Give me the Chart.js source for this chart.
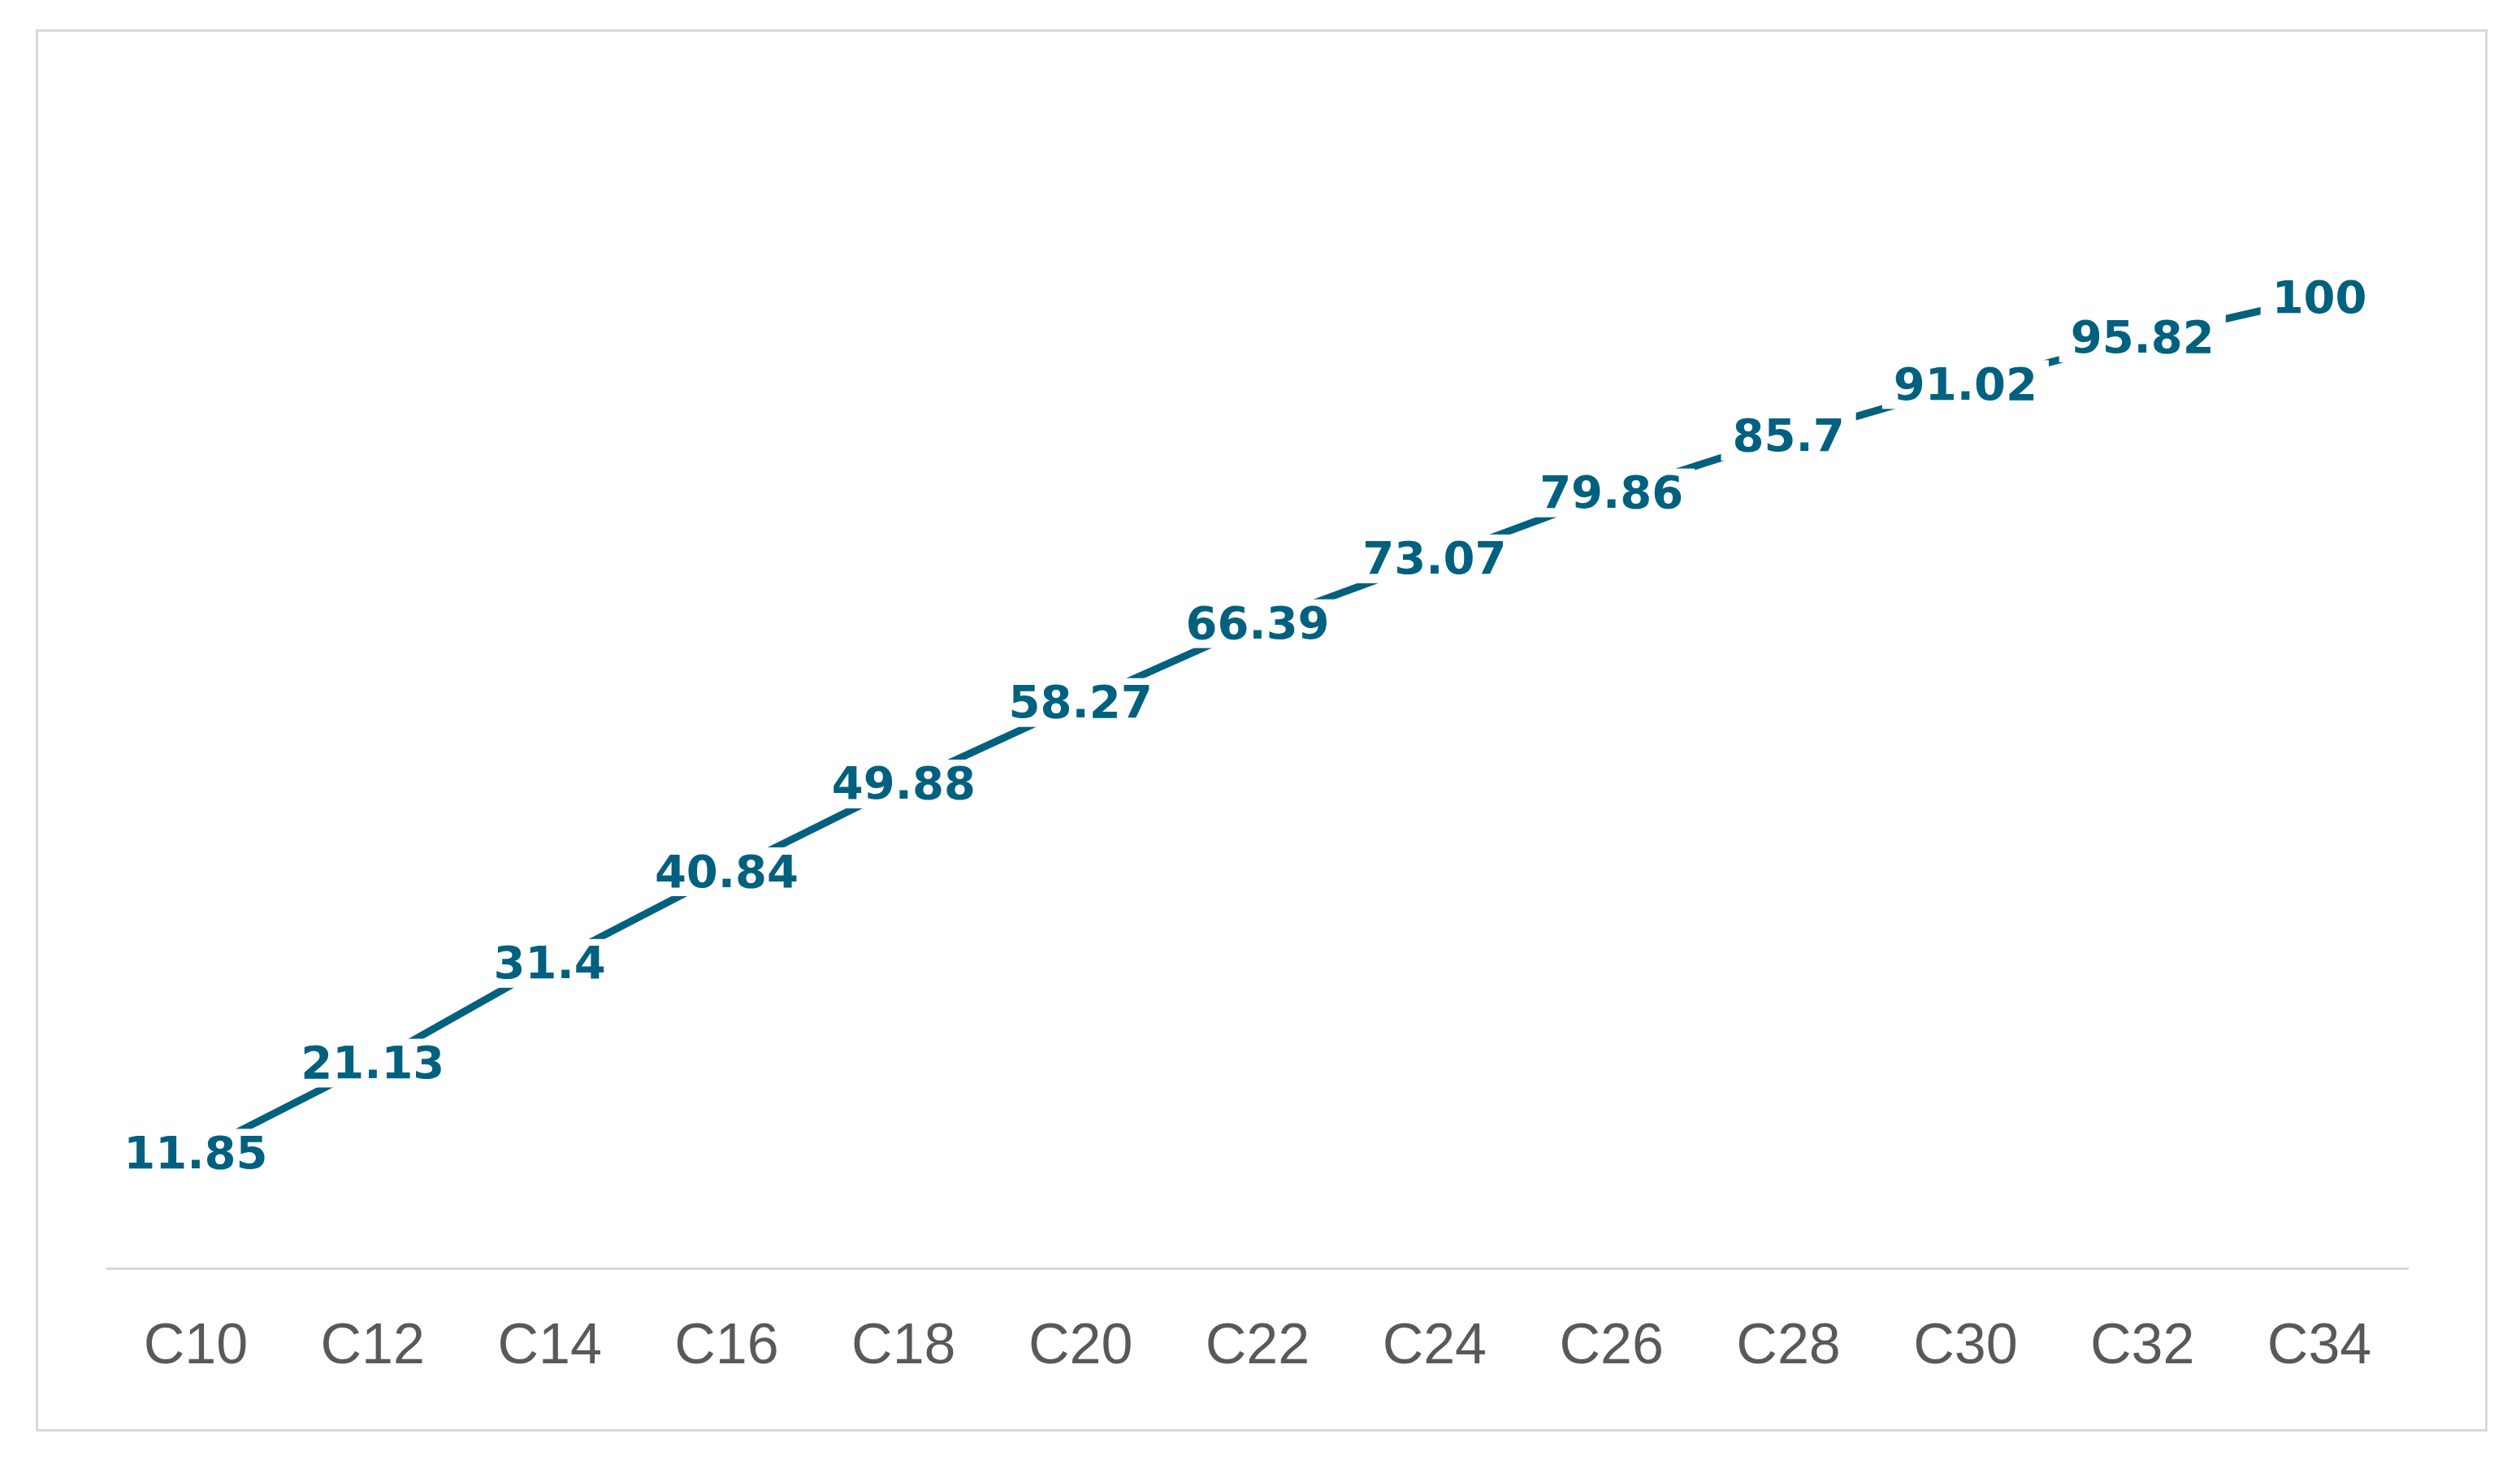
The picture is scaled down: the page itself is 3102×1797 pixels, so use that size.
<!DOCTYPE html>
<html>
<head>
<meta charset="utf-8">
<script src="https://cdn.jsdelivr.net/npm/chart.js@4"></script>
<style>
  html, body { margin: 0; padding: 0; background: #fff; }
  #frame { position: absolute; left: 44px; top: 36px; width: 3012px; height: 1720px; border: 3px solid #d9d9d9; }
  #wrap { position: absolute; left: 0; top: 0; width: 3102px; height: 1797px; }
</style>
</head>
<body>
<div id="frame"></div>
<div id="wrap"><canvas id="chart"></canvas></div>
<script>
const categories = ['C10', 'C12', 'C14', 'C16', 'C18', 'C20', 'C22', 'C24', 'C26', 'C28', 'C30', 'C32', 'C34'];
const values = [11.85, 21.13, 31.4, 40.84, 49.88, 58.27, 66.39, 73.07, 79.86, 85.7, 91.02, 95.82, 100];
const lineColor = '#00607f';

// label on each point with a white box that cuts the line
const pointLabels = {
    id: 'pointLabels',
    afterDatasetsDraw(chart) {
        const ctx = chart.ctx;
        const meta = chart.getDatasetMeta(0);
        ctx.save();
        ctx.font = 'bold 56px "DejaVu Sans"';
        ctx.textAlign = 'center';
        ctx.textBaseline = 'middle';
        meta.data.forEach((pt, i) => {
            const text = String(values[i]);
            const w = ctx.measureText(text).width;
            ctx.fillStyle = '#fff';
            ctx.fillRect(pt.x - w / 2 - 14, pt.y - 30, w + 28, 60);
            ctx.fillStyle = lineColor;
            ctx.fillText(text, pt.x, pt.y + 4);
        });
        ctx.restore();
    }
};

new Chart(document.getElementById('chart'), {
    type: 'line',
    data: {
        labels: categories,
        datasets: [{
            data: values,
            borderColor: lineColor,
            borderWidth: 9,
            pointRadius: 0,
            tension: 0
        }]
    },
    options: {
        responsive: true,
        maintainAspectRatio: false,
        animation: false,
        layout: { padding: { left: 132, right: 138, top: 127, bottom: 40 } },
        scales: {
            y: { display: false, min: 0, max: 120 },
            x: {
                offset: true,
                grid: { display: false, drawTicks: false },
                border: { color: '#d9d9d9', width: 3 },
                ticks: { color: '#595959', font: { family: 'Liberation Sans', size: 70 }, padding: 56 }
            }
        },
        plugins: { legend: { display: false }, tooltip: { enabled: false } }
    },
    plugins: [pointLabels]
});
</script>
</body>
</html>
